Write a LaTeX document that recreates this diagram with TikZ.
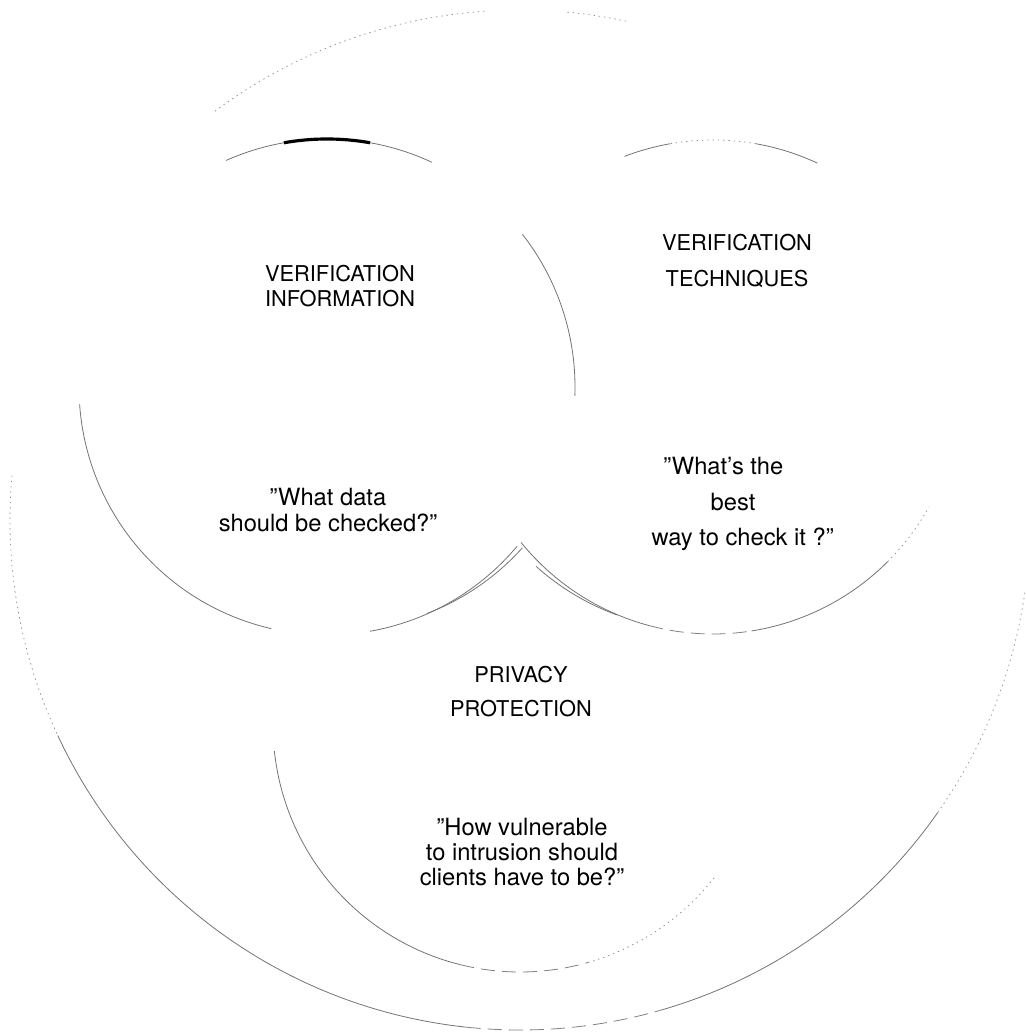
\documentclass[tikz,border=0pt]{standalone}
\usepackage{fontspec}
\setmainfont{TeX Gyre Heros}
% draw part of a ring: [style]{centre}{radius}{from}{to}
\newcommand{\ringarc}[5][rim]{\draw[#1] (#2) ++(#4:#3) arc[start angle=#4, end angle=#5, radius=#3];}
\begin{document}
\begin{tikzpicture}[x=0.02cm,y=0.02cm,
  rim/.style={draw=black!55, line width=0.45pt},
  faint/.style={draw=black!45, line width=0.4pt, dash pattern=on 0.8pt off 2.2pt},
  broken/.style={draw=black!50, line width=0.45pt, dash pattern=on 8pt off 4pt},
  heavy/.style={draw=black, line width=1.8pt},
  heading/.style={align=center, inner sep=0pt},
  question/.style={align=center, inner sep=0pt},
]
\useasboundingbox (0,0) rectangle (1025,1035);
\fill[white] (0,0) rectangle (1025,1035);

% circle centres
\coordinate (cL) at (327,648);
\coordinate (cR) at (713,648);
\coordinate (cB) at (520,310);
\coordinate (cO) at (520,515);
\coordinate (cLi) at (338,653);
\coordinate (cRi) at (702,653);

% outer ring
\ringarc[faint]{cO}{510}{94}{127}
\ringarc[faint]{cO}{510}{78}{85}
\ringarc[faint]{cO}{510}{175}{205}
\ringarc{cO}{510}{205}{264}
\ringarc[broken]{cO}{510}{264}{286}
\ringarc{cO}{510}{-74}{-35}
\ringarc[faint]{cO}{510}{-35}{-8}

% verification information
\ringarc{cL}{248}{184}{257}
\ringarc{cL}{248}{65}{114}
\ringarc[heavy]{cL}{248}{80}{100}
\ringarc{cL}{248}{-2}{38}
\ringarc{cL}{248}{-80}{-40}
\ringarc{cLi}{248}{-69}{-42}

% verification techniques
\ringarc{cR}{247}{65}{80}
\ringarc[faint]{cR}{247}{80}{100}
\ringarc{cR}{247}{100}{111}
\ringarc{cR}{247}{219}{255}
\ringarc[broken]{cR}{247}{255}{279}
\ringarc{cR}{247}{-81}{-45}
\ringarc[faint]{cR}{247}{-45}{-29}
\ringarc{cRi}{248}{-132}{-110}

% privacy protection
\ringarc{cB}{247}{186}{256}
\ringarc[broken]{cB}{247}{256}{286}
\ringarc[faint]{cB}{247}{-74}{-38}

% labels
\node[heading, font=\fontsize{12.4}{14.2}\selectfont] (vinfo) at (340,749) {VERIFICATION\\INFORMATION};
\node[heading, font=\fontsize{12.4}{20.4}\selectfont] (vtech) at (737,774) {VERIFICATION\\TECHNIQUES};
\node[question, font=\fontsize{13.5}{14.7}\selectfont] (qdata) at (328,525) {''What data\\should be checked?''};
\node[question, font=\fontsize{13.5}{20.4}\selectfont] (qbest) at (733,531) {''What's the\hspace*{11pt}\\best\\\hspace*{11pt}way to check it ?''};
\node[heading, font=\fontsize{12.4}{19.3}\selectfont] (priv) at (521,343) {PRIVACY\\PROTECTION};
\node[question, font=\fontsize{13.5}{14.2}\selectfont] (qvuln) at (522,183) {''How vulnerable\\to intrusion should\\clients have to be?''};
\end{tikzpicture}
\end{document}
